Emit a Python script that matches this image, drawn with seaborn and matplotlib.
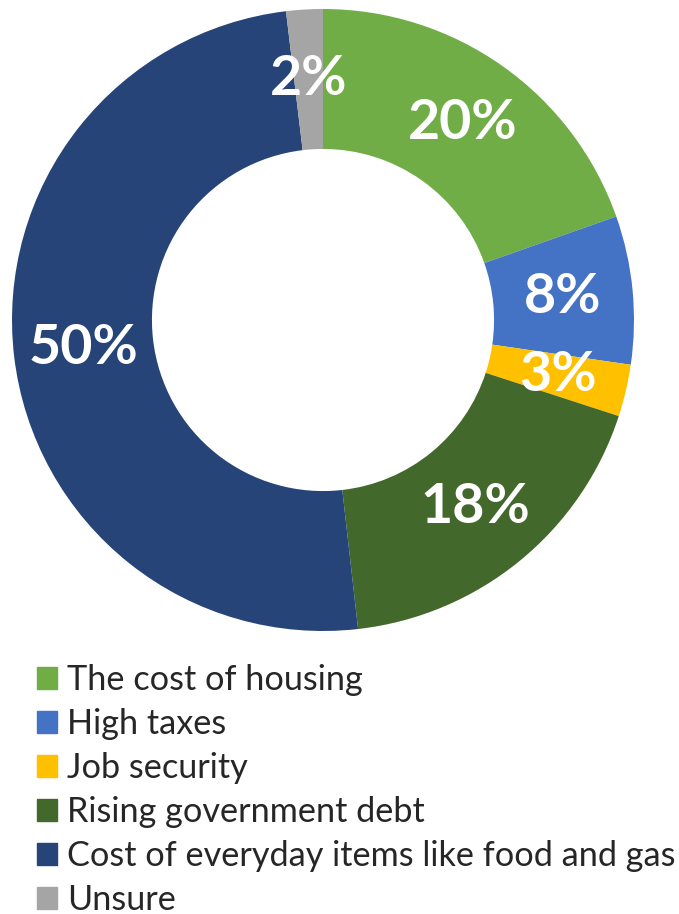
import matplotlib
matplotlib.use("Agg")
import matplotlib.pyplot as plt
import matplotlib.patches as mpatches
import seaborn as sns

sns.set_theme(style="white")
plt.rcParams['font.family'] = ['Lato', 'DejaVu Sans']

# shares (labels are rounded like the original)
categories = ["The cost of housing", "High taxes", "Job security",
              "Rising government debt", "Cost of everyday items like food and gas",
              "Unsure"]
shares = [19.6, 7.7, 2.7, 18.2, 49.9, 1.9]
colors = sns.color_palette(["#70AD47", "#4472C4", "#FFC000",
                            "#43682B", "#264478", "#A5A5A5"])

fig = plt.figure(figsize=(6.79, 9.14), dpi=100)

# donut: center (323, 320) px, radius 311 px
ax = fig.add_axes([12 / 679, (914 - 631) / 914, 622 / 679, 622 / 914])
wedges, texts = ax.pie(shares, colors=colors, startangle=90, counterclock=False,
                       radius=1.0, labels=[f"{v:.0f}%" for v in shares],
                       labeldistance=0.775,
                       wedgeprops=dict(width=0.45, linewidth=0),
                       textprops=dict(color="white", fontsize=40, fontweight="bold",
                                      ha="center", va="center"))
ax.set_xlim(-1, 1)
ax.set_ylim(-1, 1)
ax.set_aspect("equal")
ax.axis("off")

handles = [mpatches.Patch(color=c, label=l) for c, l in zip(colors, categories)]
fig.legend(handles=handles, loc="upper left", bbox_to_anchor=(37 / 679, 1 - 664 / 914),
           frameon=False, fontsize=24.7, handlelength=0.58, handleheight=0.58,
           handletextpad=0.29, labelspacing=0.35, borderaxespad=0, borderpad=0)

fig.savefig("out.png", dpi=100)
